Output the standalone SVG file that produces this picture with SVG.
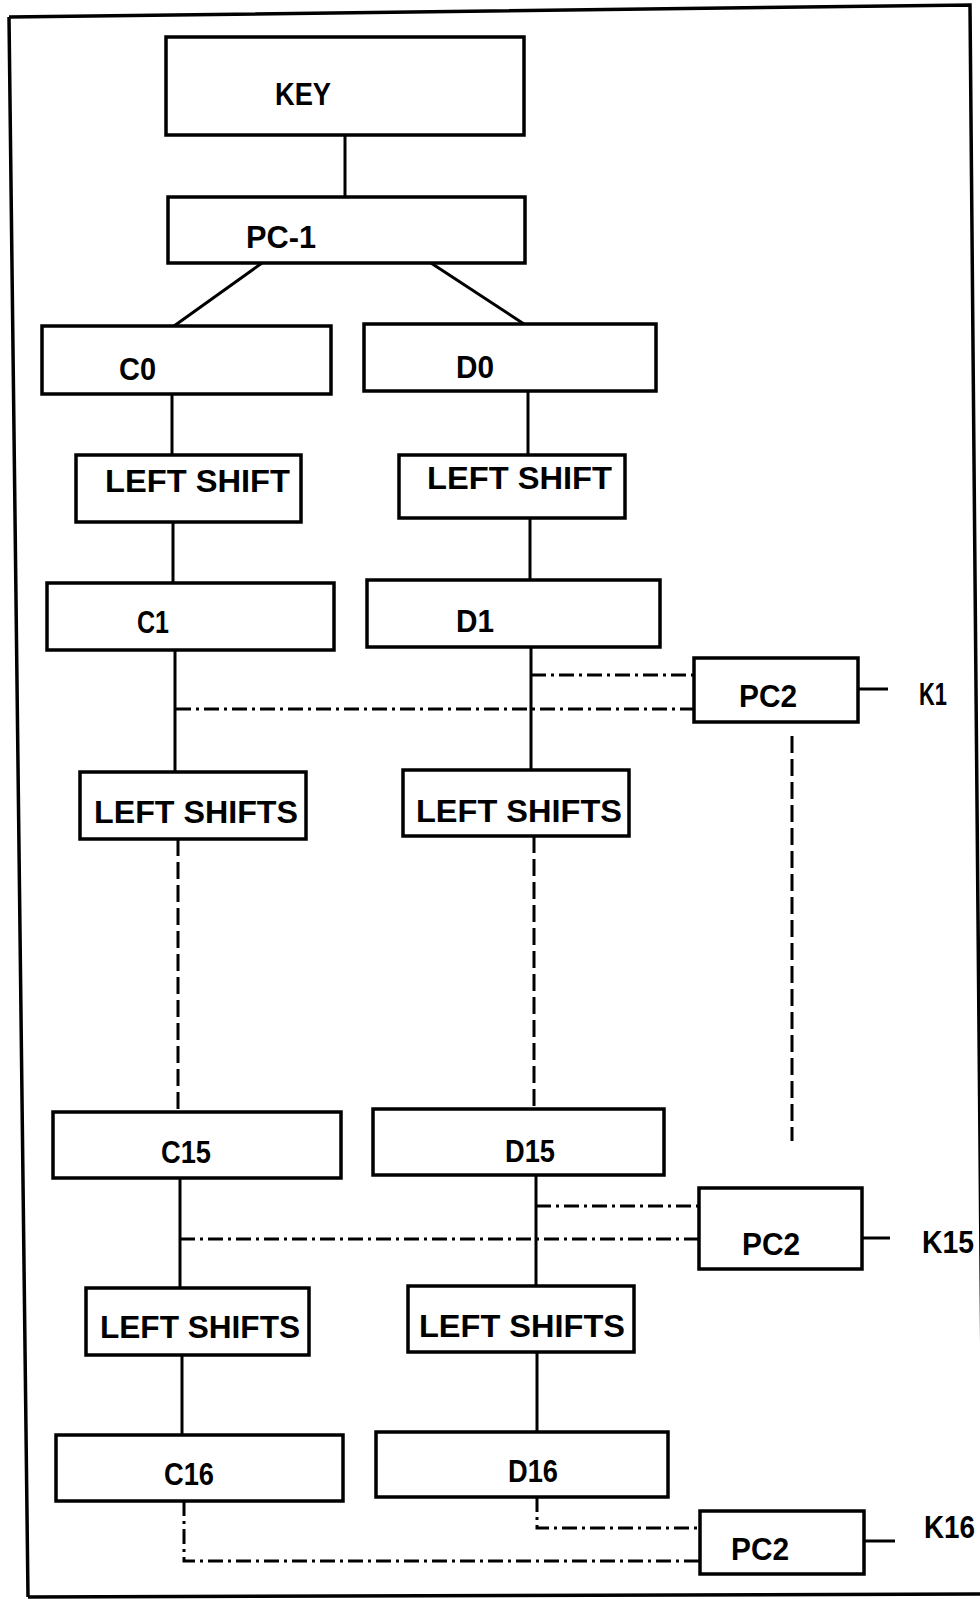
<svg xmlns="http://www.w3.org/2000/svg" width="980" height="1599" viewBox="0 0 980 1599">
<defs>
<style>
rect.box{fill:#fff;stroke:#000;stroke-width:3.5}
text{font-family:"Liberation Sans","DejaVu Sans",sans-serif;font-weight:bold;font-size:31px;fill:#000}
.solid{stroke:#000;stroke-width:3;fill:none}
.dash{stroke:#000;stroke-width:3;fill:none;stroke-dasharray:17 6}
.dd{stroke:#000;stroke-width:3;fill:none;stroke-dasharray:15 5 3 5}
</style>
</defs>
<rect width="980" height="1599" fill="#fff"/>
<path d="M9,17 L970,5 L984,1599 M28,1597 L9,17 M28,1597 L980,1594" fill="none" stroke="#000" stroke-width="3.5"/>

<g id="connectors">
<line class="solid" x1="345" y1="135" x2="345" y2="197"/>
<line class="solid" x1="262" y1="263" x2="174" y2="326"/>
<line class="solid" x1="431" y1="263" x2="524" y2="324"/>
<line class="solid" x1="172" y1="394" x2="172" y2="455"/>
<line class="solid" x1="528" y1="391" x2="528" y2="455"/>
<line class="solid" x1="173" y1="522" x2="173" y2="583"/>
<line class="solid" x1="530" y1="518" x2="530" y2="580"/>
<line class="solid" x1="175" y1="650" x2="175" y2="772"/>
<line class="solid" x1="531" y1="647" x2="531" y2="770"/>
<line class="dd" x1="531" y1="675" x2="693" y2="675"/>
<line class="dd" x1="176" y1="709" x2="693" y2="709"/>
<line class="solid" x1="858" y1="689" x2="888" y2="689"/>
<line class="dash" x1="792" y1="736" x2="792" y2="1141"/>
<line class="dash" x1="178" y1="839" x2="178" y2="1112"/>
<line class="dash" x1="534" y1="836" x2="534" y2="1109"/>
<line class="solid" x1="180" y1="1178" x2="180" y2="1287"/>
<line class="solid" x1="536" y1="1175" x2="536" y2="1286"/>
<line class="dd" x1="536" y1="1206" x2="698" y2="1206"/>
<line class="dd" x1="180" y1="1239" x2="698" y2="1239"/>
<line class="solid" x1="862" y1="1238" x2="890" y2="1238"/>
<line class="solid" x1="182" y1="1356" x2="182" y2="1435"/>
<line class="solid" x1="537" y1="1352" x2="537" y2="1432"/>
<polyline class="dd" points="537,1497 537,1528 700,1528"/>
<polyline class="dd" points="184,1501 184,1561 700,1561"/>
<line class="solid" x1="864" y1="1541" x2="895" y2="1541"/>
</g>

<g id="key"><rect class="box" x="166" y="37" width="358" height="98"/><text x="275" y="105" textLength="56" lengthAdjust="spacingAndGlyphs">KEY</text></g>
<g id="pc1"><rect class="box" x="168" y="197" width="357" height="66"/><text x="246" y="248" textLength="70" lengthAdjust="spacingAndGlyphs">PC-1</text></g>
<g id="c0"><rect class="box" x="42" y="326" width="289" height="68"/><text x="119" y="380" textLength="37" lengthAdjust="spacingAndGlyphs">C0</text></g>
<g id="d0"><rect class="box" x="364" y="324" width="292" height="67"/><text x="456" y="378" textLength="38" lengthAdjust="spacingAndGlyphs">D0</text></g>
<g id="ls-c0"><rect class="box" x="76" y="455" width="225" height="67"/><text x="105" y="492" textLength="185" lengthAdjust="spacingAndGlyphs">LEFT SHIFT</text></g>
<g id="ls-d0"><rect class="box" x="399" y="455" width="226" height="63"/><text x="427" y="489" textLength="185" lengthAdjust="spacingAndGlyphs">LEFT SHIFT</text></g>
<g id="c1"><rect class="box" x="47" y="583" width="287" height="67"/><text x="137" y="633" textLength="32" lengthAdjust="spacingAndGlyphs">C1</text></g>
<g id="d1"><rect class="box" x="367" y="580" width="293" height="67"/><text x="456" y="632" textLength="38" lengthAdjust="spacingAndGlyphs">D1</text></g>
<g id="pc2-1"><rect class="box" x="694" y="658" width="164" height="64"/><text x="739" y="707" textLength="58" lengthAdjust="spacingAndGlyphs">PC2</text></g>
<g id="k1"><text x="919" y="705" textLength="28" lengthAdjust="spacingAndGlyphs">K1</text></g>
<g id="ls-c1"><rect class="box" x="80" y="772" width="226" height="67"/><text x="94" y="823" textLength="204" lengthAdjust="spacingAndGlyphs">LEFT SHIFTS</text></g>
<g id="ls-d1"><rect class="box" x="403" y="770" width="226" height="66"/><text x="416" y="822" textLength="206" lengthAdjust="spacingAndGlyphs">LEFT SHIFTS</text></g>
<g id="c15"><rect class="box" x="53" y="1112" width="288" height="66"/><text x="161" y="1163" textLength="50" lengthAdjust="spacingAndGlyphs">C15</text></g>
<g id="d15"><rect class="box" x="373" y="1109" width="291" height="66"/><text x="505" y="1162" textLength="50" lengthAdjust="spacingAndGlyphs">D15</text></g>
<g id="pc2-15"><rect class="box" x="699" y="1188" width="163" height="81"/><text x="742" y="1255" textLength="58" lengthAdjust="spacingAndGlyphs">PC2</text></g>
<g id="k15"><text x="922" y="1253" textLength="52" lengthAdjust="spacingAndGlyphs">K15</text></g>
<g id="ls-c15"><rect class="box" x="86" y="1288" width="223" height="67"/><text x="100" y="1338" textLength="200" lengthAdjust="spacingAndGlyphs">LEFT SHIFTS</text></g>
<g id="ls-d15"><rect class="box" x="408" y="1286" width="226" height="66"/><text x="419" y="1337" textLength="206" lengthAdjust="spacingAndGlyphs">LEFT SHIFTS</text></g>
<g id="c16"><rect class="box" x="56" y="1435" width="287" height="66"/><text x="164" y="1485" textLength="50" lengthAdjust="spacingAndGlyphs">C16</text></g>
<g id="d16"><rect class="box" x="376" y="1432" width="292" height="65"/><text x="508" y="1482" textLength="50" lengthAdjust="spacingAndGlyphs">D16</text></g>
<g id="pc2-16"><rect class="box" x="700" y="1511" width="164" height="63"/><text x="731" y="1560" textLength="58" lengthAdjust="spacingAndGlyphs">PC2</text></g>
<g id="k16"><text x="924" y="1538" textLength="51" lengthAdjust="spacingAndGlyphs">K16</text></g>
</svg>
